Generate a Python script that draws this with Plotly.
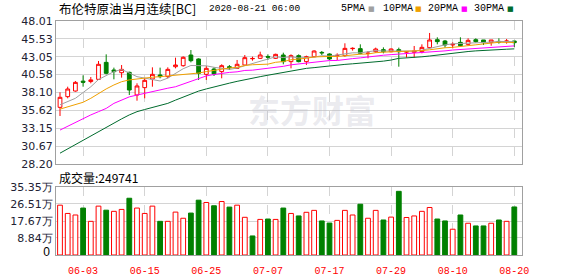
import plotly.graph_objects as go

dates = ["05-29",
         "06-01", "06-02", "06-03", "06-04", "06-05", "06-08", "06-09", "06-10", "06-11", "06-12",
         "06-15", "06-16", "06-17", "06-18", "06-19", "06-22", "06-23", "06-24", "06-25", "06-26",
         "06-29", "06-30",
         "07-01", "07-02", "07-03", "07-06", "07-07", "07-08", "07-09", "07-10", "07-13", "07-14",
         "07-15", "07-16", "07-17", "07-20", "07-21", "07-22", "07-23", "07-24", "07-27", "07-28",
         "07-29", "07-30", "07-31",
         "08-03", "08-04", "08-05", "08-06", "08-07", "08-10", "08-11", "08-12", "08-13", "08-14",
         "08-17", "08-18", "08-19", "08-20"]

opens = [36.05, 37.53, 38.31, 39.68, 39.62, 39.93, 42.28, 41.22, 40.85, 40.90,
         37.76, 38.78, 39.98, 40.53, 40.30, 41.68, 41.82, 43.30, 42.75, 40.62,
         41.36, 41.00, 41.68, 41.45, 41.91, 42.78, 42.84, 43.10, 42.84, 43.30,
         42.38, 43.21, 42.38, 43.07, 43.66, 43.44, 43.20, 43.21, 44.18, 44.18,
         43.50, 43.76, 44.04, 43.76, 44.04, 43.70, 43.67, 43.76, 44.32, 45.42,
         45.24, 44.69, 45.05, 44.78, 45.42, 45.38, 45.05, 45.18, 45.15, 45.24]
highs = [38.13, 38.91, 39.70, 40.48, 40.25, 42.47, 43.39, 41.55, 41.91, 40.99,
         39.38, 40.07, 41.59, 41.55, 41.59, 42.93, 43.11, 43.99, 42.84, 41.78,
         41.59, 42.01, 41.91, 42.61, 43.30, 43.07, 43.76, 43.39, 43.48, 43.62,
         43.39, 43.39, 43.21, 43.95, 43.85, 43.53, 43.53, 44.92, 44.36, 44.78,
         43.85, 44.32, 44.36, 44.22, 44.32, 43.85, 44.55, 44.78, 46.35, 45.75,
         45.38, 45.05, 45.75, 45.61, 45.61, 45.38, 45.38, 45.61, 45.52, 45.24]
lows = [34.85, 37.30, 38.22, 38.91, 39.38, 39.84, 40.62, 39.93, 40.16, 37.76,
        36.97, 37.30, 38.91, 40.07, 40.07, 41.45, 41.68, 42.28, 39.84, 39.84,
        40.39, 40.07, 41.22, 41.36, 41.82, 42.51, 42.75, 42.61, 42.75, 42.01,
        41.45, 42.28, 41.91, 42.98, 43.30, 42.61, 42.61, 43.07, 43.90, 43.39,
        42.84, 43.62, 43.53, 43.67, 41.68, 42.93, 42.93, 43.53, 44.22, 44.78,
        44.32, 44.22, 44.50, 44.59, 45.01, 44.69, 44.59, 44.87, 44.87, 44.40]
closes = [37.44, 38.59, 39.51, 39.52, 39.85, 42.01, 40.76, 40.99, 41.31, 38.45,
          39.01, 39.79, 40.62, 40.30, 41.31, 41.91, 42.98, 42.51, 40.76, 41.45,
          40.67, 41.82, 41.55, 42.01, 42.93, 42.82, 43.30, 43.00, 43.39, 42.38,
          43.21, 42.38, 43.07, 43.85, 43.60, 42.75, 43.25, 44.22, 44.22, 43.53,
          43.55, 44.13, 43.76, 44.13, 43.76, 43.76, 43.85, 44.36, 45.38, 45.15,
          44.69, 44.78, 44.59, 45.33, 45.15, 45.01, 45.38, 45.10, 45.24, 45.01]

ma5 = [36.4, 36.8, 37.3, 38.1, 38.9, 39.9, 40.5, 41.0, 41.3, 40.8,
       40.3, 40.1, 39.9, 39.7, 40.1, 40.7, 41.4, 41.85, 41.8, 41.8,
       41.6, 41.4, 41.3, 41.5, 41.8, 42.2, 42.5, 42.8, 43.05, 42.95,
       43.05, 42.9, 42.9, 43.0, 43.2, 43.15, 43.3, 43.5, 43.6, 43.6,
       43.75, 43.9, 43.85, 43.85, 43.87, 43.9, 43.85, 43.97, 44.2, 44.5,
       44.7, 44.85, 44.9, 44.9, 44.9, 44.97, 45.08, 45.18, 45.18, 45.15]
ma10 = [35.8, 36.15, 36.5, 36.75, 37.3, 38.0, 38.6, 39.15, 39.6, 39.85,
        40.0, 40.13, 40.22, 40.3, 40.4, 40.45, 40.6, 40.75, 40.8, 41.0,
        41.2, 41.4, 41.5, 41.6, 41.85, 41.95, 41.98, 42.03, 42.29, 42.39,
        42.64, 42.7, 42.85, 43.03, 43.1, 43.1, 43.09, 43.21, 43.3, 43.41,
        43.44, 43.62, 43.69, 43.72, 43.73, 43.83, 43.89, 43.91, 44.02, 44.19,
        44.3, 44.36, 44.45, 44.57, 44.71, 44.83, 44.98, 45.06, 45.05, 45.03]
ma20 = [32.9, 33.45, 33.95, 34.45, 35.0, 35.45, 35.9, 36.6, 37.05, 37.5,
        37.75, 38.0, 38.3, 38.45, 38.7, 38.9, 39.25, 39.6, 40.0, 40.4,
        40.6, 40.78, 40.89, 40.97, 41.16, 41.2, 41.33, 41.43, 41.53, 41.73,
        41.94, 42.07, 42.19, 42.32, 42.48, 42.53, 42.54, 42.62, 42.8, 42.9,
        43.04, 43.16, 43.27, 43.35, 43.42, 43.47, 43.49, 43.56, 43.66, 43.8,
        43.87, 43.99, 44.07, 44.15, 44.22, 44.3, 44.38, 44.44, 44.5, 44.56]
ma30 = [29.7, 30.3, 30.9, 31.5, 32.15, 32.75, 33.3, 33.85, 34.45, 35.0,
        35.45, 35.75, 36.0, 36.3, 36.6, 37.05, 37.5, 37.9, 38.3, 38.6,
        38.9, 39.15, 39.4, 39.65, 39.9, 40.1, 40.3, 40.5, 40.7, 40.95,
        41.1, 41.3, 41.45, 41.55, 41.68, 41.8, 41.9, 42.0, 42.08, 42.15,
        42.25, 42.33, 42.45, 42.6, 42.84, 42.9, 42.95, 43.05, 43.16, 43.3,
        43.44, 43.55, 43.67, 43.78, 43.87, 43.95, 44.0, 44.05, 44.1, 44.15]

# volume in 万 (10k)
volume = [25.9, 21.6, 20.8, 24.4, 17.5, 25.4, 23.3, 22.7, 23.7, 29.5,
          24.4, 21.6, 25.4, 17.5, 17.5, 22.3, 19.1, 21.8, 28.5, 27.3,
          25.6, 27.8, 24.9, 25.9, 19.6, 9.9, 18.5, 18.7, 18.5, 24.4,
          21.6, 20.3, 22.2, 23.2, 17.7, 16.6, 18.0, 23.2, 20.8, 26.4,
          19.1, 23.2, 18.2, 19.7, 33.1, 19.5, 20.3, 22.7, 24.7, 18.7,
          17.7, 13.4, 20.8, 16.5, 15.1, 15.1, 16.5, 18.2, 17.5, 24.9741]
vol_up = [1, 1, 1, 0, 1, 1, 0, 1, 1, 0,
          1, 1, 1, 0, 1, 1, 1, 0, 0, 1,
          0, 1, 0, 1, 1, 0, 1, 0, 1, 0,
          1, 0, 1, 1, 0, 0, 1, 1, 1, 0,
          1, 1, 0, 1, 0, 1, 1, 1, 1, 0,
          0, 1, 0, 1, 0, 0, 1, 0, 1, 0]

x_tick_labels = ["06-03", "06-15", "06-25", "07-07", "07-17", "07-29", "08-10", "08-20"]
price_tick_labels = ["28.20", "30.67", "33.15", "35.62", "38.10", "40.58", "43.05", "45.53", "48.01"]
vol_tick_labels = ["0", "8.84万", "17.67万", "26.51万", "35.35万"]
vol_tick_values = [0, 8.84, 17.67, 26.51, 35.35]
last_volume_text = "249741"

RED = "#ff0000"
GREEN = "#008000"
MA_COLORS = ["#a0a0a0", "#f0a000", "#ff00ff", "#006b2d"]
GRID = "#d4d4d4"
BORDER = "#a0a0a0"
AXIS_TEXT = "#222233"

fig = go.Figure()
fig.add_trace(go.Candlestick(
    x=dates, open=opens, high=highs, low=lows, close=closes,
    xaxis="x", yaxis="y",
    increasing=dict(line=dict(color=RED, width=1), fillcolor="#ffffff"),
    decreasing=dict(line=dict(color=GREEN, width=1), fillcolor=GREEN),
    whiskerwidth=0, showlegend=False, hoverinfo="skip"))

for series, col in zip([ma5, ma10, ma20, ma30], MA_COLORS):
    fig.add_trace(go.Scatter(x=dates, y=series, mode="lines", xaxis="x", yaxis="y",
                             line=dict(color=col, width=1), showlegend=False, hoverinfo="skip"))

fig.add_trace(go.Bar(
    x=dates, y=volume, xaxis="x2", yaxis="y2", width=0.62,
    marker=dict(color=["#ffffff" if u else GREEN for u in vol_up],
                line=dict(color=[RED if u else GREEN for u in vol_up], width=1)),
    showlegend=False, hoverinfo="skip"))

xr = [-0.52, 60.0]
common_x = dict(type="category", categoryorder="array", categoryarray=dates, range=xr,
                tickmode="array", tickvals=x_tick_labels, showgrid=True, gridcolor=GRID,
                griddash="dash", gridwidth=1, showline=True, mirror=True, linecolor=BORDER,
                linewidth=1, ticks="", zeroline=False, fixedrange=True)

yfont = dict(family="DejaVu Sans", size=11, color=AXIS_TEXT)
fig.update_layout(
    width=578, height=276,
    margin=dict(l=56, r=56, t=21, b=21, autoexpand=False),
    paper_bgcolor="#ffffff", plot_bgcolor="#ffffff",
    showlegend=False,
    xaxis=dict(**common_x, anchor="y", showticklabels=False, rangeslider=dict(visible=False)),
    xaxis2=dict(**common_x, anchor="y2", ticktext=x_tick_labels, showticklabels=True,
                tickfont=dict(family="Liberation Mono", size=10, color=RED),
                ticklabelstandoff=6),
    yaxis=dict(domain=[0.3889, 1.0], range=[28.20, 48.01],
               tickmode="array", tickvals=[float(t) for t in price_tick_labels],
               ticktext=price_tick_labels, showgrid=True, gridcolor=GRID, gridwidth=1,
               showline=True, mirror=True, linecolor=BORDER, zeroline=False, ticks="",
               tickfont=yfont),
    yaxis2=dict(domain=[0.0, 0.2906], range=[0, 35.35],
                tickmode="array", tickvals=vol_tick_values[1:], ticktext=vol_tick_labels[1:],
                showgrid=True, gridcolor=GRID, gridwidth=1,
                showline=True, mirror=True, linecolor=BORDER, zeroline=False, ticks="",
                tickfont=yfont),
)

ann = []
# watermark
ann.append(dict(text="<b>东方财富</b>", x=0.55, y=0.73, xref="paper", yref="paper",
                showarrow=False, font=dict(family="Noto Sans CJK SC", size=32, color="rgba(185,185,200,0.3)")))

# pixel-placed texts
pix = []
pix.append(dict(text="布伦特原油当月连续[BC]", x=57, y=9, xanchor="left",
                font=dict(family="Noto Sans CJK SC", size=12.5, color="#000000")))
title_time = "2020-08-21 06:00"
pix.append(dict(text=title_time, x=207, y=9, xanchor="left",
                font=dict(family="Liberation Mono", size=9.5, color="#000000")))
legend_names = ["5PMA", "10PMA", "20PMA", "30PMA"]
legend_x = [339, 381, 426, 472]
legend_sq = [366, 413, 459, 505]
for name, lx, sx, col in zip(legend_names, legend_x, legend_sq, MA_COLORS):
    pix.append(dict(text=name, x=lx, y=9, xanchor="left",
                    font=dict(family="Liberation Mono", size=10, color="#000000")))
    pix.append(dict(text="■", x=sx, y=9, xanchor="left",
                    font=dict(family="DejaVu Sans", size=7, color=col)))
pix.append(dict(text="成交量:" + last_volume_text, x=57, y=177, xanchor="left",
                font=dict(family="Noto Sans CJK SC", size=12, color="#000000")))
# zero label of the volume axis, drawn as a free text item
pix.append(dict(text=" " + vol_tick_labels[0] + " ", x=55, y=252, xanchor="right",
                font=dict(family="Liberation Sans", size=12, color="#000000")))

W, H = 578, 276
ml, mr, mt, mb = 56, 56, 21, 21
pw, ph = W - ml - mr, H - mt - mb
for a in pix:
    a["xref"] = "paper"
    a["yref"] = "paper"
    a["showarrow"] = False
    a["yanchor"] = "middle"
    a["x"] = (a["x"] - ml) / pw
    a["y"] = (H - mb - a["y"]) / ph
fig.update_layout(annotations=ann + pix)

fig.write_html("out.html")
